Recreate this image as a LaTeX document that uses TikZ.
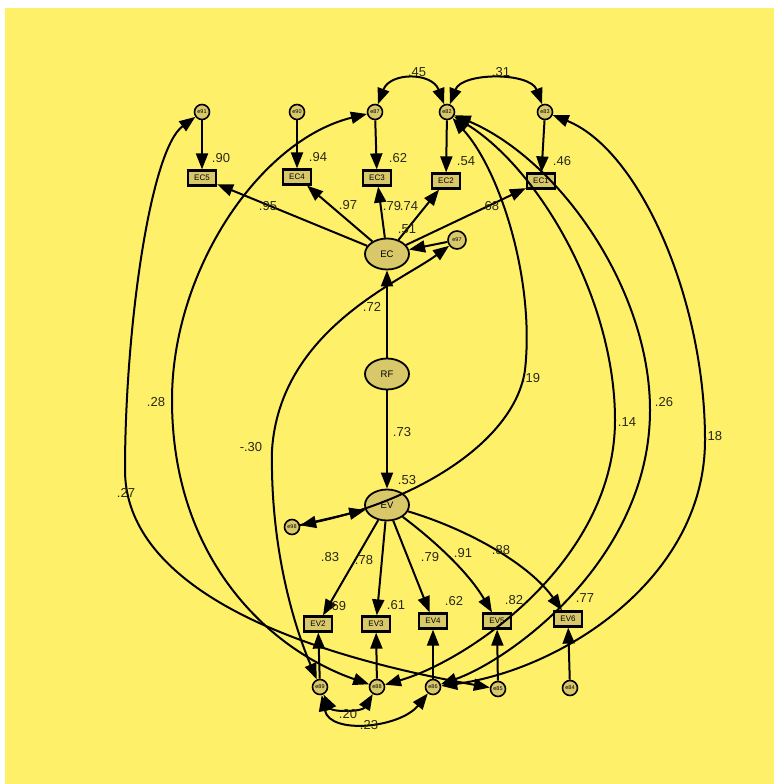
\documentclass[tikz,border=0pt]{standalone}
\usepackage{fontspec}
\setmainfont{Liberation Sans}
\usetikzlibrary{arrows.meta,shapes.geometric}
\definecolor{bg}{RGB}{255,240,106}
\definecolor{objfill}{RGB}{216,200,106}
\definecolor{txt}{RGB}{40,40,20}
\begin{document}
\begin{tikzpicture}[x=1pt,y=-1pt,
 obs/.style={draw,line width=2.2pt,fill=objfill,minimum width=28pt,minimum height=15pt,inner sep=0pt,font=\fontsize{8}{8}\selectfont},
 lat/.style={ellipse,draw,line width=1.8pt,fill=objfill,minimum width=44pt,minimum height=31pt,inner sep=0pt,font=\fontsize{9.5}{10}\selectfont},
 err/.style={circle,draw,line width=1.6pt,fill=objfill,minimum size=15pt,inner sep=0pt,font=\fontsize{5.5}{5.5}\selectfont},
 lbl/.style={font=\fontsize{13}{13}\selectfont,text=txt,inner sep=0pt},
 pth/.style={line width=2pt,-{Triangle[length=16pt,width=12pt]}},
 cov/.style={line width=2pt,{Triangle[length=16pt,width=12pt]}-{Triangle[length=16pt,width=12pt]}},
]
\useasboundingbox (0,0) rectangle (774,784);
\fill[bg] (5,8) rectangle (774,784);

% top error terms
\node[err] (e91) at (202,112) {e91};
\node[err] (e90) at (297,112) {e90};
\node[err] (e87) at (375,112) {e87};
\node[err] (e82) at (447,112) {e82};
\node[err] (e83) at (545,112) {e83};
% EC indicators
\node[obs] (EC5) at (202,178) {EC5};
\node[obs] (EC4) at (297,177) {EC4};
\node[obs] (EC3) at (377,178) {EC3};
\node[obs] (EC2) at (446,181) {EC2};
\node[obs] (EC1) at (541,181) {EC1};
% latents
\node[lat] (EC) at (387,254) {EC};
\node[err,minimum size=18pt] (e97) at (457,240) {e97};
\node[lat] (RF) at (387,374) {RF};
\node[lat] (EV) at (387,505) {EV};
\node[err] (e98) at (292,527) {e98};
% EV indicators
\node[obs] (EV2) at (318,624) {EV2};
\node[obs] (EV3) at (376,624) {EV3};
\node[obs] (EV4) at (433,621) {EV4};
\node[obs] (EV5) at (497,621) {EV5};
\node[obs] (EV6) at (568,619) {EV6};
% bottom errors
\node[err] (e89) at (320,687) {e89};
\node[err] (e88) at (377,687) {e88};
\node[err] (e86) at (433,687) {e86};
\node[err] (e85) at (498,689) {e85};
\node[err] (e84) at (570,688) {e84};

% error -> indicator
\draw[pth] (e91) -- (EC5);
\draw[pth] (e90) -- (EC4);
\draw[pth] (e87) -- (EC3);
\draw[pth] (e82) -- (EC2);
\draw[pth] (e83) -- (EC1);
\draw[pth] (e89) -- (EV2);
\draw[pth] (e88) -- (EV3);
\draw[pth] (e86) -- (EV4);
\draw[pth] (e85) -- (EV5);
\draw[pth] (e84) -- (EV6);
% loadings
\draw[pth] (EC) -- (EC5);
\draw[pth] (EC) -- (EC4);
\draw[pth] (EC) -- (EC3);
\draw[pth] (EC) -- (EC2);
\draw[pth] (EC) -- (EC1);
\draw[pth] (EV) -- (EV2);
\draw[pth] (EV) -- (EV3);
\draw[pth] (EV) -- (EV4);
\draw[pth] (EV) .. controls (440,545) and (470,575) .. (EV5);
\draw[pth] (EV) .. controls (470,530) and (530,565) .. (EV6);
% structural
\draw[pth] (RF) -- (EC);
\draw[pth] (RF) -- (EV);
\draw[pth] (e97) -- (EC);
\draw[pth] (e98) -- (EV);

% covariances
\draw[cov] (e87) .. controls (390,72) and (432,72) .. (e82);
\draw[cov] (e82) .. controls (462,72) and (530,72) .. (e83);
\draw[cov] (e87) .. controls (260,140) and (172,270) .. (172,400) .. controls (172,560) and (270,650) .. (e88);
\draw[cov] (e91) .. controls (150,150) and (125,330) .. (125,470) .. controls (125,570) and (250,645) .. (e85);
\draw[cov] (e97) .. controls (400,282) and (280,330) .. (272,450) .. controls (270,560) and (300,640) .. (e89);
\draw[cov] (e82) .. controls (500,170) and (535,280) .. (525,370) .. controls (515,440) and (420,500) .. (e98);
\draw[cov] (e82) .. controls (540,170) and (615,300) .. (615,420) .. controls (615,560) and (470,660) .. (e88);
\draw[cov] (e82) .. controls (560,160) and (650,290) .. (650,410) .. controls (650,560) and (510,660) .. (e86);
\draw[cov] (e83) .. controls (640,150) and (705,300) .. (705,440) .. controls (705,580) and (560,670) .. (e86);
\draw[cov] (e89) .. controls (332,712) and (362,712) .. (e88);
\draw[cov] (e89) .. controls (330,735) and (400,728) .. (e86);

% labels
\node[lbl] (l45) at (417,72) {.45};
\node[lbl] (l31) at (501,72) {.31};
\node[lbl] (l90) at (221,158) {.90};
\node[lbl] (l94) at (318,157) {.94};
\node[lbl] (l62a) at (398,158) {.62};
\node[lbl] (l54) at (466,161) {.54};
\node[lbl] (l46) at (562,161) {.46};
\node[lbl] (l95) at (268,206) {.95};
\node[lbl] (l97) at (348,205) {.97};
\node[lbl] (l79a) at (392,206) {.79};
\node[lbl] (l74) at (409,206) {.74};
\node[lbl] (l68) at (490,206) {.68};
\node[lbl] (l51) at (407,229) {.51};
\node[lbl] (l72) at (372,307) {.72};
\node[lbl] (l19) at (531,378) {.19};
\node[lbl] (l28) at (156,402) {.28};
\node[lbl] (l14) at (627,422) {.14};
\node[lbl] (l26) at (664,402) {.26};
\node[lbl] (l18) at (713,436) {.18};
\node[lbl] (l30) at (251,447) {-.30};
\node[lbl] (l27) at (126,493) {.27};
\node[lbl] (l73) at (402,432) {.73};
\node[lbl] (l53) at (407,480) {.53};
\node[lbl] (l83) at (330,557) {.83};
\node[lbl] (l78) at (364,560) {.78};
\node[lbl] (l79b) at (430,557) {.79};
\node[lbl] (l91) at (463,553) {.91};
\node[lbl] (l88) at (501,550) {.88};
\node[lbl] (l69) at (337,606) {.69};
\node[lbl] (l61) at (396,605) {.61};
\node[lbl] (l62b) at (454,601) {.62};
\node[lbl] (l82) at (514,600) {.82};
\node[lbl] (l77) at (585,598) {.77};
\node[lbl] (l20) at (348,714) {.20};
\node[lbl] (l23) at (369,725) {.23};
\end{tikzpicture}
\end{document}
